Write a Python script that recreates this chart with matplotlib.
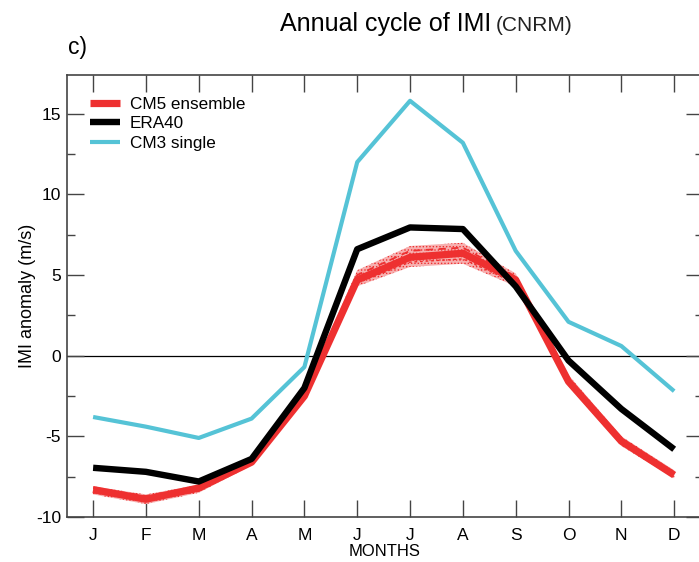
import matplotlib
matplotlib.use("Agg")
import matplotlib.pyplot as plt
from matplotlib.ticker import MultipleLocator

plt.rcParams['font.family'] = ['Liberation Sans', 'DejaVu Sans']
plt.rcParams['hatch.linewidth'] = 0.6
plt.rcParams['axes.unicode_minus'] = False

months = ['J', 'F', 'M', 'A', 'M', 'J', 'J', 'A', 'S', 'O', 'N', 'D']
month_idx = list(range(1, 13))

cm5_ensemble = [-8.3, -8.9, -8.2, -6.6, -2.5, 4.7, 6.1, 6.35, 4.7, -1.6, -5.3, -7.4]
cm5_upper = [-8.1, -8.6, -8.0, -6.4, -2.2, 5.3, 6.8, 7.0, 5.1, -1.2, -5.0, -7.1]
cm5_lower = [-8.6, -9.2, -8.5, -6.8, -2.8, 4.3, 5.5, 5.7, 4.3, -1.9, -5.6, -7.6]
cm5_member_a = [-8.2, -8.7, -8.1, -6.5, -2.3, 5.0, 6.5, 6.7, 4.9, -1.4, -5.2, -7.3]
cm5_member_b = [-8.5, -9.0, -8.4, -6.7, -2.7, 4.5, 5.8, 6.0, 4.5, -1.7, -5.4, -7.5]
era40 = [-6.95, -7.2, -7.8, -6.4, -2.0, 6.6, 7.95, 7.85, 4.3, -0.3, -3.3, -5.8]
cm3_single = [-3.8, -4.4, -5.1, -3.9, -0.7, 12.0, 15.8, 13.2, 6.5, 2.1, 0.6, -2.2]

red = '#EE3030'
cyan = '#55C3D6'

W, H = 699, 562
fig = plt.figure(figsize=(W / 100, H / 100), dpi=100)
ax = fig.add_axes([66.7 / W, (H - 517) / H, 636.5 / W, (517 - 75) / H])

ax.fill_between(month_idx, cm5_lower, cm5_upper, facecolor='#F7B0B0',
                edgecolor=red, hatch='.....', linewidth=0, zorder=2)
ax.plot(month_idx, cm5_member_a, color=red, lw=1.3, ls=(0, (4, 3)), zorder=3)
ax.plot(month_idx, cm5_member_b, color=red, lw=1.0, ls=(0, (2, 2)), zorder=3)
ax.plot(month_idx, cm5_ensemble, color=red, lw=5.2, zorder=4,
        solid_capstyle='butt', label='CM5 ensemble')
ax.plot(month_idx, era40, color='black', lw=4.6, zorder=5,
        solid_capstyle='butt', label='ERA40')
ax.plot(month_idx, cm3_single, color=cyan, lw=3.0, zorder=5,
        solid_capstyle='butt', label='CM3 single')
ax.axhline(0, color='black', lw=0.9, zorder=1)

ax.set_xlim(0.5, 12.55)
ax.set_ylim(-10, 17.4)
ax.set_xticks(month_idx)
ax.set_xticklabels(months, fontsize=12.5)
ax.yaxis.set_major_locator(MultipleLocator(5))
ax.yaxis.set_minor_locator(MultipleLocator(2.5))
ax.tick_params(axis='both', which='major', direction='in', length=12,
               width=1.0, color='#444444', top=True, right=True, labelsize=12.5)
ax.tick_params(axis='y', which='minor', direction='in', length=6,
               width=1.0, color='#444444', right=True)
ax.tick_params(axis='x', which='major', pad=8)
ax.tick_params(axis='y', which='major', pad=4)
for s in ax.spines.values():
    s.set_color('#444444')
    s.set_linewidth(1.2)

ax.set_xlabel('MONTHS', fontsize=12, labelpad=1)
ax.set_ylabel('IMI anomaly (m/s)', fontsize=13, labelpad=0)

leg = ax.legend(loc='upper left', frameon=False, fontsize=12.3,
                handlelength=1.75, handletextpad=0.6, labelspacing=0.25,
                borderaxespad=0.5, bbox_to_anchor=(0.012, 0.985))

fig.text(280 / W, 1 - 31 / H, 'Annual cycle of IMI', fontsize=18, ha='left', va='baseline')
fig.text(496 / W, 1 - 31 / H, '(CNRM)', fontsize=15, ha='left', va='baseline', color='#222222')
fig.text(68 / W, 1 - 54 / H, 'c)', fontsize=16.5, ha='left', va='baseline')

fig.savefig('out.png', dpi=100)
